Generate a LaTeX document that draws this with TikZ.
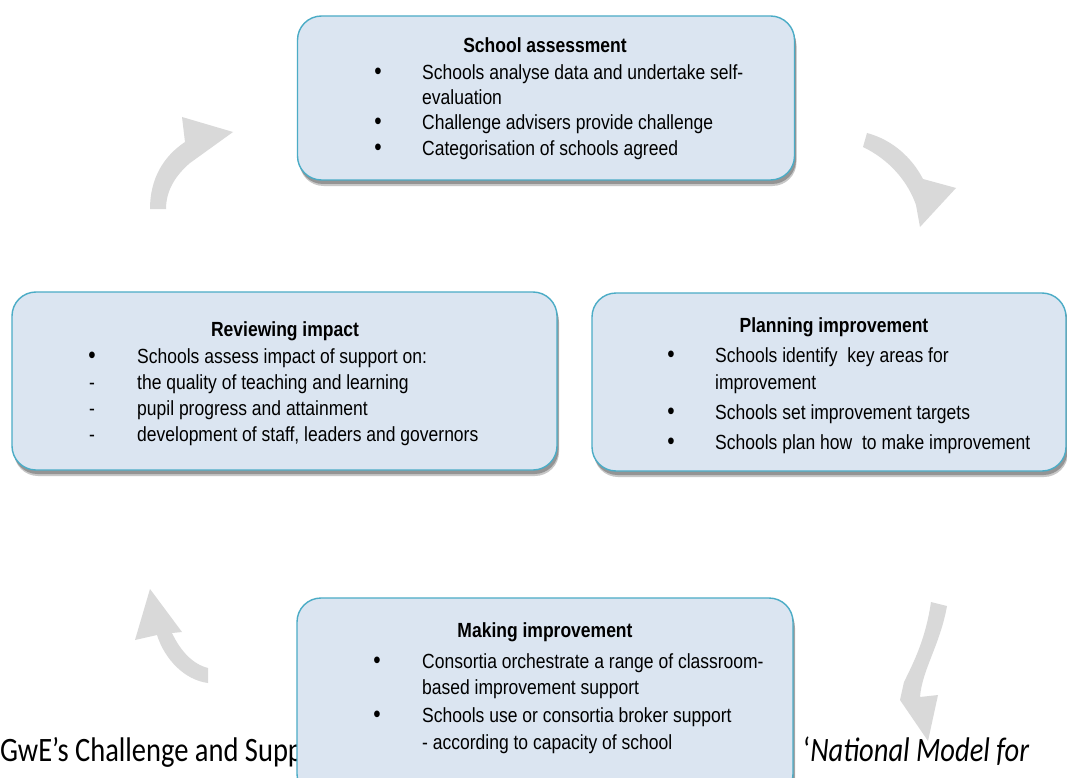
\documentclass[tikz,border=0pt]{standalone}
\usepackage{fontspec}
\setmainfont{Liberation Sans}
\newfontfamily\capfont{Carlito}
\usetikzlibrary{shadows}
\definecolor{boxfill}{RGB}{219,229,241}
\definecolor{boxline}{RGB}{75,172,198}
\definecolor{arrowgray}{RGB}{217,217,217}
\newcommand{\stretchtxt}[1]{\scalebox{1}[1.17]{#1}}
\begin{document}
\begin{tikzpicture}[x=1pt,y=-1pt,
  cyclebox/.style={rectangle, rounded corners=24pt, draw=boxline, line width=1.4pt, fill=boxfill,
    general shadow={fill=black!22, shadow xshift=2pt, shadow yshift=-6pt},
    general shadow={fill=black!42, shadow xshift=1.5pt, shadow yshift=-4pt}},
  txt/.style={anchor=base west, inner sep=0pt, font=\fontsize{17.5}{21}\selectfont},
  ttl/.style={anchor=base, inner sep=0pt, font=\fontsize{17.5}{21}\selectfont\bfseries},
  bul/.style={anchor=base, inner sep=0pt, font=\fontsize{21}{24}\selectfont},
  dsh/.style={anchor=base, inner sep=0pt, font=\fontsize{17.5}{21}\selectfont},
  captxt/.style={anchor=base west, inner sep=0pt, font=\capfont\fontsize{28.5}{34}\selectfont},
  bigarrow/.style={fill=arrowgray, draw=none}]
\useasboundingbox (0,0) rectangle (1067,778);
\fill[white] (0,0) rectangle (1067,778);

% caption (partly covered by the bottom box)
\node[captxt] (capL) at (0,761) {\scalebox{1}[1.2]{GwE’s Challenge and Supp}};
\node[captxt] (capR) at (803,761) {\scalebox{1}[1.2]{‘\textit{National Model for}}};

% curved arrows
\fill[bigarrow] (150,209) .. controls (150,178) and (164,156) .. (185,142) -- (182,117) -- (233,132)
  -- (190,163) .. controls (176,175) and (166,190) .. (166,209) -- cycle;
\fill[bigarrow] (867,133) .. controls (893,140) and (912,158) .. (923,179) -- (956,188) -- (920,227)
  -- (916,205) .. controls (908,182) and (890,160) .. (863,147) -- cycle;
\fill[bigarrow] (931,602) -- (947,606) .. controls (940,645) and (922,670) .. (920,697) -- (938,695)
  -- (928,741) -- (900,700) -- (904,682) .. controls (916,658) and (926,636) .. cycle;
\fill[bigarrow] (150,589) -- (182,632) -- (172,633) .. controls (180,650) and (192,664) .. (208,668)
  -- (208,683) .. controls (185,680) and (165,660) .. (157,635) -- (135,640) -- cycle;

% boxes
\node[cyclebox, minimum width=497pt, minimum height=164pt] (assess) at (546,98) {};
\node[cyclebox, minimum width=545pt, minimum height=178pt] (review) at (284.5,381) {};
\node[cyclebox, minimum width=474pt, minimum height=178pt] (plan) at (829,382) {};
\node[cyclebox, minimum width=496pt, minimum height=200pt] (make) at (545,698) {};

% School assessment
\node[ttl] (a0) at (545,53) {\stretchtxt{School assessment}};
\node[bul] (ab1) at (378,80) {\stretchtxt{•}};
\node[txt] (a1) at (422,80) {\stretchtxt{Schools analyse data and undertake self-}};
\node[txt] (a2) at (422,105) {\stretchtxt{evaluation}};
\node[bul] (ab3) at (378,130) {\stretchtxt{•}};
\node[txt] (a3) at (422,130) {\stretchtxt{Challenge advisers provide challenge}};
\node[bul] (ab4) at (378,156) {\stretchtxt{•}};
\node[txt] (a4) at (422,156) {\stretchtxt{Categorisation of schools agreed}};

% Reviewing impact
\node[ttl] (r0) at (285,336) {\stretchtxt{Reviewing impact}};
\node[bul] (rb1) at (92,363) {\stretchtxt{•}};
\node[txt] (r1) at (137,363) {\stretchtxt{Schools assess impact of support on:}};
\node[dsh] (rb2) at (92,389) {\stretchtxt{-}};
\node[txt] (r2) at (137,389) {\stretchtxt{the quality of teaching and learning}};
\node[dsh] (rb3) at (92,415) {\stretchtxt{-}};
\node[txt] (r3) at (137,415) {\stretchtxt{pupil progress and attainment}};
\node[dsh] (rb4) at (92,441) {\stretchtxt{-}};
\node[txt] (r4) at (137,441) {\stretchtxt{development of staff, leaders and governors}};

% Planning improvement
\node[ttl] (p0) at (834,332) {\stretchtxt{Planning improvement}};
\node[bul] (pb1) at (671,362) {\stretchtxt{•}};
\node[txt] (p1) at (715,362) {\stretchtxt{Schools identify\ \ key areas for}};
\node[txt] (p2) at (715,389) {\stretchtxt{improvement}};
\node[bul] (pb3) at (671,419) {\stretchtxt{•}};
\node[txt] (p3) at (715,419) {\stretchtxt{Schools set improvement targets}};
\node[bul] (pb4) at (671,449) {\stretchtxt{•}};
\node[txt] (p4) at (715,449) {\stretchtxt{Schools plan how\ \ to make improvement}};

% Making improvement
\node[ttl] (m0) at (545,637) {\stretchtxt{Making improvement}};
\node[bul] (mb1) at (377,668) {\stretchtxt{•}};
\node[txt] (m1) at (422,668) {\stretchtxt{Consortia orchestrate a range of classroom-}};
\node[txt] (m2) at (422,694) {\stretchtxt{based improvement support}};
\node[bul] (mb3) at (377,722) {\stretchtxt{•}};
\node[txt] (m3) at (422,722) {\stretchtxt{Schools use or consortia broker support}};
\node[txt] (m4) at (422,749) {\stretchtxt{- according to capacity of school}};
\end{tikzpicture}
\end{document}
